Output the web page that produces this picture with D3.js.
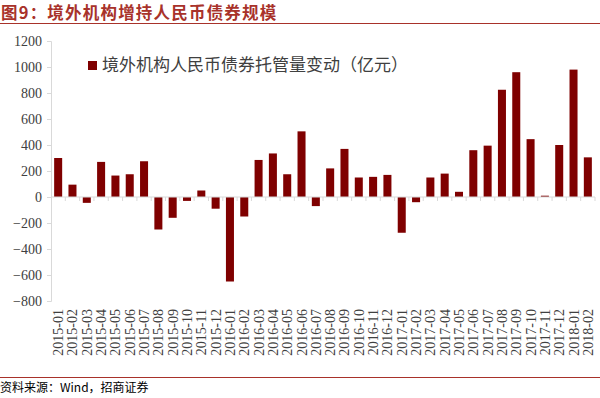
<!DOCTYPE html>
<html>
<head>
<meta charset="utf-8">
<script src="https://cdn.jsdelivr.net/npm/d3@7"></script>
<style>
  body { margin: 0; background: #fff; }
  svg { display: block; }
  .serif { font-family: "Liberation Serif", "DejaVu Serif", serif; }
</style>
</head>
<body>
<div id="chart"></div>
<script>
var svgWidth = 600;
var svgHeight = 398;

// data
var months = ["2015-01","2015-02","2015-03","2015-04","2015-05","2015-06","2015-07","2015-08","2015-09","2015-10","2015-11","2015-12",
  "2016-01","2016-02","2016-03","2016-04","2016-05","2016-06","2016-07","2016-08","2016-09","2016-10","2016-11","2016-12",
  "2017-01","2017-02","2017-03","2017-04","2017-05","2017-06","2017-07","2017-08","2017-09","2017-10","2017-11","2017-12",
  "2018-01","2018-02"];
var changes = [300, 95, -45, 270, 165, 175, 275, -250, -160, -30, 50, -90,
  -650, -150, 285, 335, 175, 505, -70, 220, 370, 150, 155, 170,
  -275, -40, 150, 180, 40, 360, 395, 825, 960, 445, 10, 400,
  980, 305];
var yTicks = [-800, -600, -400, -200, 0, 200, 400, 600, 800, 1000, 1200];
var seriesName = "境外机构人民币债券托管量变动（亿元）";

var plot = { left: 51, right: 595, top: 41, bottom: 301 };

var svg = d3.select("#chart")
  .append("svg")
  .attr("width", svgWidth)
  .attr("height", svgHeight);

// title + rules
svg.append("text")
  .attr("x", 1)
  .attr("y", 19)
  .style("font-family", "'Noto Sans CJK SC'")
  .attr("font-weight", "bold")
  .attr("font-size", 16.5)
  .attr("letter-spacing", 1.2)
  .attr("fill", "#a8322a")
  .text("图9：境外机构增持人民币债券规模");

svg.append("line")
  .attr("x1", 0).attr("x2", svgWidth)
  .attr("y1", 23.5).attr("y2", 23.5)
  .attr("stroke", "#a8322a").attr("stroke-width", 1);

svg.append("line")
  .attr("x1", 0).attr("x2", svgWidth)
  .attr("y1", 377.5).attr("y2", 377.5)
  .attr("stroke", "#a8322a").attr("stroke-width", 1);

svg.append("text")
  .attr("x", 0)
  .attr("y", 392)
  .style("font-family", "'Noto Sans CJK SC'")
  .attr("font-size", 12)
  .attr("fill", "#000")
  .text("资料来源：Wind，招商证券");

// scales
var x = d3.scaleBand()
  .domain(months)
  .range([plot.left, plot.right])
  .paddingInner(0.44)
  .paddingOuter(0.22);

var y = d3.scaleLinear()
  .domain([-800, 1200])
  .range([plot.bottom, plot.top]);

// y axis
var yAxis = svg.append("g")
  .attr("transform", `translate(${plot.left},0)`)
  .call(d3.axisLeft(y).tickValues(yTicks).tickFormat(d3.format("d")).tickSize(4).tickPadding(5));
yAxis.attr("font-family", null);
yAxis.select(".domain").attr("stroke", "#d9d9d9");
yAxis.selectAll(".tick line").attr("stroke", "#d9d9d9");
yAxis.selectAll(".tick text")
  .attr("class", "serif")
  .attr("font-size", 14)
  .attr("fill", "#404040");

// bars
svg.selectAll("rect.bar")
  .data(changes)
  .enter()
  .append("rect")
  .attr("class", "bar")
  .attr("x", (d, i) => x(months[i]))
  .attr("width", x.bandwidth())
  .attr("y", d => y(Math.max(0, d)))
  .attr("height", d => Math.abs(y(d) - y(0)))
  .attr("fill", "#7f0000");

// zero axis with ticks between categories
var step = x.step();
var zeroAxis = svg.append("g");
zeroAxis.append("line")
  .attr("x1", plot.left).attr("x2", plot.right)
  .attr("y1", y(0)).attr("y2", y(0))
  .attr("stroke", "#d9d9d9");
zeroAxis.selectAll("line.tk")
  .data(months)
  .enter()
  .append("line")
  .attr("class", "tk")
  .attr("x1", d => x(d) - (step - x.bandwidth()) / 2 + step)
  .attr("x2", d => x(d) - (step - x.bandwidth()) / 2 + step)
  .attr("y1", y(0)).attr("y2", y(0) + 4)
  .attr("stroke", "#d9d9d9");

// x labels at the bottom, rotated
svg.append("g")
  .selectAll("text")
  .data(months)
  .enter()
  .append("text")
  .attr("class", "serif")
  .attr("transform", d => `translate(${x(d) + x.bandwidth() / 2 + 5},${plot.bottom + 8}) rotate(-90)`)
  .attr("text-anchor", "end")
  .attr("font-size", 14)
  .attr("fill", "#404040")
  .text(d => d);

// legend
var legend = svg.append("g").attr("transform", "translate(88,61)");
legend.append("rect")
  .attr("width", 9).attr("height", 9)
  .attr("fill", "#7f0000");
legend.append("text")
  .attr("x", 14)
  .attr("y", 10)
  .style("font-family", "'Noto Sans CJK SC'")
  .attr("font-size", 17)
  .attr("fill", "#404040")
  .text(seriesName);
</script>
</body>
</html>
